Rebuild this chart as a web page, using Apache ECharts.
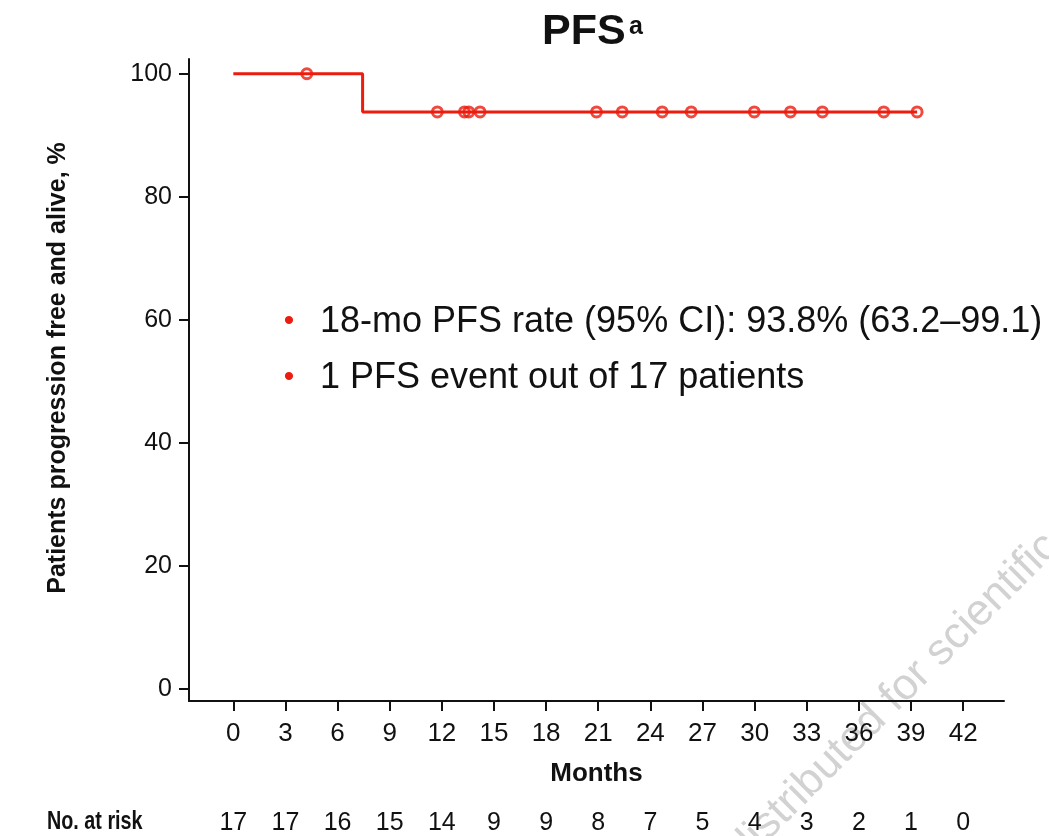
<!DOCTYPE html>
<html>
<head>
<meta charset="utf-8">
<title>PFS</title>
<script src="https://cdn.jsdelivr.net/npm/echarts@6/dist/echarts.min.js"></script>
<style>
  html, body { margin: 0; padding: 0; background: #fff; }
  #chart { width: 1049px; height: 836px; }
</style>
</head>
<body>
<div id="chart"></div>
<script>
// KM step curve: months -> % progression free and alive
const curveMonths = [0, 7.44, 39.35];
const curvePct = [100, 93.8, 93.8];

// censored patients (open circles)
const censorMonths = [4.23, 11.74, 13.3, 13.55, 14.2, 20.9, 22.38, 24.68, 26.35, 29.98, 32.06, 33.9, 37.43, 39.35];
const censorPct = [100, 93.8, 93.8, 93.8, 93.8, 93.8, 93.8, 93.8, 93.8, 93.8, 93.8, 93.8, 93.8, 93.8];

const monthTicks = [0, 3, 6, 9, 12, 15, 18, 21, 24, 27, 30, 33, 36, 39, 42];
const pctTicks = [0, 20, 40, 60, 80, 100];
const atRisk = [17, 17, 16, 15, 14, 9, 9, 8, 7, 5, 4, 3, 2, 1, 0];

const notes = ['18-mo PFS rate (95% CI): 93.8% (63.2–99.1)', '1 PFS event out of 17 patients'];

const RED = '#ec1c0e';
const INK = '#111111';
const SANS = "'Liberation Sans', Arial, sans-serif";

const chart = echarts.init(document.getElementById('chart'));

const noteGraphics = [];
notes.forEach((t, i) => {
  const y = 322 + i * 56;
  noteGraphics.push({
    type: 'text', x: 289, y: y,
    style: { text: '•', fill: RED, font: '30px ' + SANS, textAlign: 'center', textVerticalAlign: 'middle' }
  });
  noteGraphics.push({
    type: 'text', x: 320, y: y,
    style: { text: t, fill: INK, font: '36px ' + SANS, textAlign: 'left', textVerticalAlign: 'middle' }
  });
});

const option = {
  backgroundColor: '#fff',
  animation: false,
  title: {
    text: 'PFS',
    left: 537,
    top: 3,
    textStyle: { fontSize: 43, fontWeight: 'bold', fontFamily: SANS, color: INK, lineHeight: 48 }
  },
  grid: { left: 189, right: 45, top: 59, bottom: 135, containLabel: false },
  xAxis: [
    {
      type: 'value',
      min: -2.55,
      max: 44.35,
      splitLine: { show: false },
      axisLine: { show: true, onZero: false, lineStyle: { color: INK, width: 2 } },
      axisTick: { show: true, customValues: monthTicks, length: 10, lineStyle: { color: INK, width: 2 } },
      axisLabel: { customValues: monthTicks, fontSize: 26, fontFamily: SANS, color: INK, margin: 20 },
      name: 'Months',
      nameLocation: 'middle',
      nameGap: 60,
      nameTextStyle: { fontSize: 26, fontWeight: 'bold', fontFamily: SANS, color: INK }
    },
    {
      // number at risk row, placed on the same month scale
      type: 'value',
      position: 'bottom',
      offset: 100,
      min: -2.55,
      max: 44.35,
      splitLine: { show: false },
      axisLine: { show: false, onZero: false },
      axisTick: { show: false },
      axisLabel: {
        customValues: monthTicks,
        formatter: v => String(atRisk[monthTicks.indexOf(v)]),
        fontSize: 25, fontFamily: SANS, color: INK, margin: 10
      }
    }
  ],
  yAxis: {
    type: 'value',
    min: -2,
    max: 102.4,
    splitLine: { show: false },
    axisLine: { show: true, onZero: false, lineStyle: { color: INK, width: 2 } },
    axisTick: { show: true, customValues: pctTicks, length: 10, lineStyle: { color: INK, width: 2 } },
    axisLabel: { customValues: pctTicks, fontSize: 25, fontFamily: SANS, color: INK, margin: 17 }
  },
  series: [
    {
      type: 'line',
      step: 'end',
      data: curveMonths.map((m, i) => [m, curvePct[i]]),
      showSymbol: false,
      lineStyle: { color: RED, width: 3 },
      z: 2
    },
    {
      type: 'scatter',
      data: censorMonths.map((m, i) => [m, censorPct[i]]),
      symbol: 'circle',
      symbolSize: 10,
      itemStyle: { color: 'rgba(0,0,0,0)', borderColor: RED, borderWidth: 3 },
      z: 3
    }
  ],
  graphic: [
    {
      // superscript footnote mark on the title
      type: 'text', x: 629, y: 27,
      style: { text: 'a', fill: INK, font: 'bold 25px ' + SANS, textAlign: 'left', textVerticalAlign: 'middle' }
    },
    {
      type: 'text', x: 58, y: 368,
      rotation: Math.PI / 2,
      style: { text: 'Patients progression free and alive, %', fill: INK, font: 'bold 25px ' + SANS, textAlign: 'center', textVerticalAlign: 'middle' }
    },
    {
      type: 'text', x: 47, y: 822, scaleX: 0.76,
      style: { text: 'No. at risk', fill: INK, font: 'bold 26px ' + SANS, textAlign: 'left', textVerticalAlign: 'middle' }
    },
    ...noteGraphics,
    {
      type: 'text', x: 1052, y: 540,
      rotation: 45 * Math.PI / 180,
      silent: true,
      style: { text: 'distributed for scientific', fill: '#d2d2d2', font: '44px ' + SANS, textAlign: 'right', textVerticalAlign: 'middle' }
    }
  ]
};

chart.setOption(option);
</script>
</body>
</html>
